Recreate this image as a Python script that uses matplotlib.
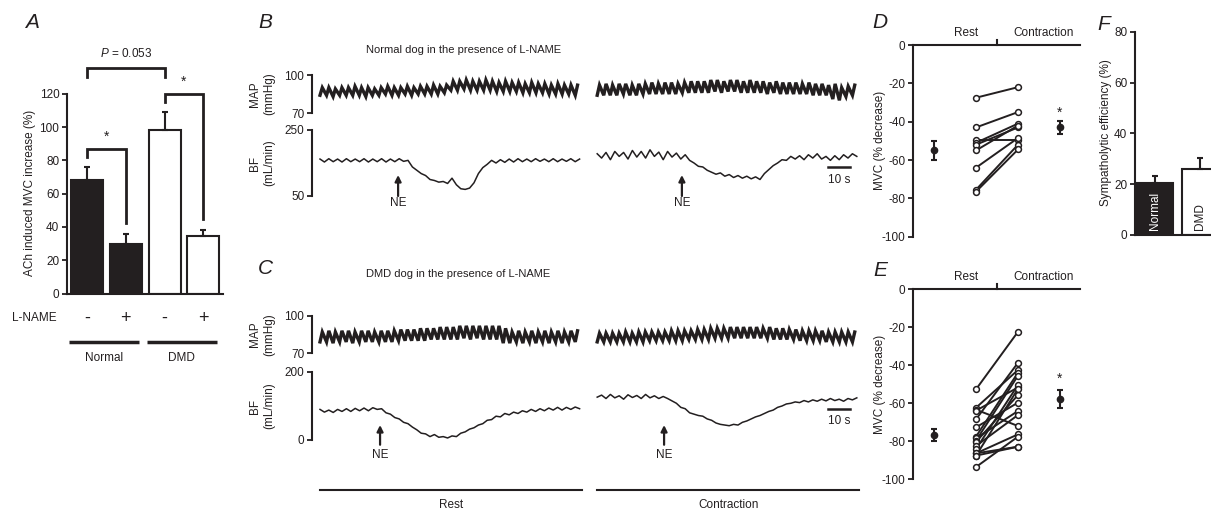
import numpy as np
import matplotlib
matplotlib.use("Agg")
import matplotlib.pyplot as plt
from matplotlib.transforms import blended_transform_factory as blend

plt.rcParams['font.family'] = ['Liberation Sans', 'DejaVu Sans']
plt.rcParams['mathtext.fontset'] = 'custom'
plt.rcParams['mathtext.rm'] = 'Liberation Sans'
plt.rcParams['mathtext.it'] = 'Liberation Sans:italic'
plt.rcParams['axes.unicode_minus'] = False

K = '#231f20'
FS = 8.5

# ---------------- data ----------------
# Panel A
a_groups = ['Normal', 'Normal', 'DMD', 'DMD']
a_lname = ['-', '+', '-', '+']
a_mean = [68, 29.5, 98, 34.5]
a_sem = [8, 6, 11, 3.5]
a_pval = 'P = 0.053'

# Panels B/C : MAP pulses (peak / trough per cycle), rest then contraction
b_rest_map_peak = [90, 90, 89, 90, 90, 91, 90, 90, 89, 90, 91, 90, 90, 91, 90, 91, 91, 92, 91, 92,
                   95, 95, 96, 95, 95, 96, 95, 94, 95, 94, 94, 93, 94, 93, 93, 92, 93, 92, 92, 92]
b_rest_map_trough = [84, 84, 83, 84, 84, 84, 84, 83, 84, 84, 85, 84, 84, 85, 84, 85, 85, 85, 85, 86,
                     88, 88, 89, 88, 88, 88, 88, 87, 87, 87, 87, 86, 86, 86, 86, 85, 85, 85, 85, 84]
b_con_map_peak = [92, 93, 92, 93, 93, 92, 93, 93, 94, 93, 94, 94, 93, 94, 95, 95, 95, 96, 96, 95,
                  96, 96, 95, 96, 95, 95, 94, 95, 94, 94, 94, 93, 94, 93, 93, 92, 93, 90, 91, 92]
b_con_map_trough = [84, 84, 84, 84, 85, 84, 84, 85, 85, 85, 85, 85, 85, 86, 86, 86, 86, 86, 87, 86,
                    87, 87, 86, 86, 86, 86, 85, 86, 85, 85, 85, 85, 85, 84, 84, 84, 81, 80, 83, 84]
c_rest_map_peak = [87, 88, 87, 88, 88, 87, 88, 88, 87, 88, 88, 88, 89, 89, 89, 90, 90, 90, 91, 91,
                   91, 92, 92, 92, 92, 92, 92, 92, 90, 87, 88, 87, 88, 87, 88, 87, 88, 87, 88, 88]
c_rest_map_trough = [79, 79, 78, 79, 79, 78, 79, 79, 79, 79, 79, 79, 80, 80, 80, 80, 80, 81, 81, 81,
                     81, 81, 82, 81, 82, 81, 81, 81, 78, 78, 79, 78, 79, 78, 79, 78, 79, 78, 79, 79]
c_con_map_peak = [86, 86, 86, 86, 87, 86, 87, 87, 87, 87, 87, 88, 88, 88, 88, 89, 89, 90, 90, 90,
                  91, 91, 91, 91, 91, 90, 91, 90, 90, 89, 89, 88, 88, 88, 88, 87, 87, 87, 87, 87]
c_con_map_trough = [79, 79, 79, 79, 79, 79, 79, 79, 80, 80, 80, 80, 80, 80, 81, 81, 81, 81, 82, 82,
                    82, 82, 82, 82, 82, 82, 82, 81, 81, 81, 81, 80, 80, 80, 80, 79, 79, 79, 79, 79]

# Blood flow sampled every 2 s (mL/min)
b_rest_bf = [162, 153, 163, 154, 162, 153, 163, 154, 162, 154, 163, 153, 162, 154, 163, 153, 162, 154, 163, 155, 158,
             138, 128, 118, 112, 100, 97, 92, 94, 88, 104, 84, 72, 70, 74, 90, 118, 136, 146, 158, 150,
             160, 152, 162, 153, 163, 154, 162, 154, 163, 155, 162, 154, 163, 154, 162, 155, 163, 154, 162]
b_con_bf = [178, 165, 182, 160, 185, 170, 182, 162, 188, 168, 185, 165, 190, 170, 183, 160, 185, 168, 180, 162, 175,
            158, 150, 140, 138, 128, 122, 116, 120, 110, 115, 106, 112, 104, 110, 102, 108, 100, 118, 130, 142,
            150, 160, 158, 170, 162, 172, 160, 175, 165, 178, 162, 170, 158, 172, 160, 175, 165, 178, 170]
c_rest_bf = [90, 82, 88, 81, 90, 84, 92, 84, 93, 86, 94, 86, 95, 90,
             92, 80, 76, 66, 62, 52, 48, 38, 30, 20, 18, 10, 16, 8, 10, 6, 12, 10, 20, 24,
             32, 36, 44, 48, 58, 60, 70, 68, 78, 74, 82, 78, 86, 82, 90, 84, 92, 86, 94, 88,
             96, 88, 96, 90, 97, 92]
c_con_bf = [126, 132, 122, 134, 124, 130, 120, 133, 125, 131, 122, 134, 124, 130, 122, 128,
            122, 115, 108, 96, 92, 80, 76, 72, 70, 62, 58, 50, 46, 44, 42, 46, 44, 52, 56, 62,
            68, 72, 78, 84, 88, 96, 100, 106, 108, 112, 110, 116, 112, 118, 114, 120, 115, 122,
            116, 120, 114, 122, 118, 124]
seg_start = [0, 126]          # s, rest / contraction segment starts
seg_dur = 119                 # s
bf_dt = 2                     # s
b_ne = [35.5, 164.5]          # NE injection times (s)
c_ne = [27.3, 156.4]
scale_bar = [231, 241]        # 10 s
b_title = 'Normal dog in the presence of L-NAME'
c_title = 'DMD dog in the presence of L-NAME'

# Panel D (Normal)
d_rest = [-27.5, -43, -49.5, -51, -52, -55, -64, -75.5, -76.5]
d_con = [-22, -35, -49.5, -41, -43, -42, -48.5, -52, -54.5]
d_mean = [-55, -43]
d_sem = [5, 3.5]
d_star = -33
# Panel E (DMD)
e_rest = [-52.8, -62.5, -63.5, -64, -68.6, -72.8, -77.7, -78.6, -79.8, -80.5, -82.6,
          -84.2, -86.5, -86.5, -87.7, -87.7, -93.7]
e_con = [-22.5, -42.6, -72.1, -51.8, -38.8, -59.8, -44, -64.2, -45.6, -55.8, -66.3,
         -50.5, -76.5, -83, -52.5, -83, -77.7]
e_mean = [-76.8, -57.9]
e_sem = [3.2, 4.8]
e_star = -45.3
de_labels = ['Rest', 'Contraction']

# Panel F
f_groups = ['Normal', 'DMD']
f_mean = [20.3, 26]
f_sem = [3, 4.5]

# ---------------- figure ----------------
W, H = 1211, 513
fig = plt.figure(figsize=(W / 100, H / 100), dpi=100)


def axpx(x0, y0, x1, y1):
    return fig.add_axes([x0 / W, 1 - y1 / H, (x1 - x0) / W, (y1 - y0) / H])


def ftext(x, y, s, **kw):
    kw.setdefault('fontsize', FS)
    kw.setdefault('color', K)
    fig.text(x / W, 1 - y / H, s, **kw)


def style_ticks(ax):
    ax.tick_params(axis='y', direction='out', length=3.5, width=1.3, labelsize=FS,
                   pad=2, colors=K)


for lab, (x, y) in zip('ABCDEF', [(32, 22), (265, 22), (265, 269), (880, 22), (880, 270), (1104, 24)]):
    ftext(x, y, lab, fontsize=15, style='italic', ha='center', va='center')

# ---------------- Panel A ----------------
axA = axpx(67, 93.8, 223, 293.5)
xa = np.arange(len(a_mean))
cols = [K if g == 'Normal' else 'white' for g in a_groups]
axA.bar(xa, a_mean, width=0.82, color=cols, edgecolor=K, linewidth=1.5, zorder=2)
axA.errorbar(xa, a_mean, yerr=[np.zeros(len(a_mean)), a_sem], fmt='none', ecolor=K,
             elinewidth=1.5, capsize=2.5, capthick=1.5, zorder=3)
axA.set_xlim(-0.515, 3.505)
axA.set_ylim(0, 120)
axA.set_yticks(np.arange(0, 121, 20))
axA.set_xticks([])
for s in ['top', 'right']:
    axA.spines[s].set_visible(False)
for s in ['left', 'bottom']:
    axA.spines[s].set_linewidth(1.5)
    axA.spines[s].set_color(K)
style_ticks(axA)
ftext(30, 193, 'ACh induced MVC increase (%)', rotation=90, ha='center', va='center')
bk = dict(color=K, lw=2, clip_on=False, solid_joinstyle='miter')
axA.plot([0, 0, 2, 2], [130.2, 135.6, 135.6, 130.2], **bk)
axA.plot([0, 0, 1, 1], [82, 86.9, 86.9, 42.4], **bk)
axA.plot([2, 2, 3, 3], [115, 120, 120, 44.8], **bk)
axA.text(1, 144.5, r'$P$ = 0.053', ha='center', va='center', fontsize=FS, color=K)
axA.text(0.5, 91.7, '*', ha='center', va='baseline', fontsize=10, color=K)
axA.text(2.5, 124.7, '*', ha='center', va='baseline', fontsize=10, color=K)
trA = blend(axA.transData, axA.transAxes)
ftext(12, 318, 'L-NAME', ha='left', va='center')
for i, s in enumerate(a_lname):
    axA.text(i, -0.123, s, transform=trA, ha='center', va='center', fontsize=13, color=K)
for g in ['Normal', 'DMD']:
    idx = [i for i, gg in enumerate(a_groups) if gg == g]
    axA.plot([idx[0] - 0.46, idx[-1] + 0.34], [-0.243, -0.243], transform=trA, color=K,
             lw=2.5, clip_on=False, solid_capstyle='butt')
    axA.text((idx[0] + idx[-1]) / 2 - 0.06, -0.323, g, transform=trA, ha='center', va='center',
             fontsize=FS, color=K)

# ---------------- Panels B / C ----------------
XL = ((312 - 320) / 2.2, (860 - 320) / 2.2)


def zigzag(t0, peaks, troughs, dur):
    n = len(peaks)
    T = dur / n
    t, v = [], []
    for k in range(n):
        t += [t0 + k * T, t0 + (k + 0.35) * T]
        v += [troughs[k], peaks[k]]
    return np.array(t), np.array(v)


def trace_axis(box, ylim):
    ax = axpx(*box)
    ax.set_xlim(*XL)
    ax.set_ylim(*ylim)
    for s in ['top', 'right', 'bottom']:
        ax.spines[s].set_visible(False)
    ax.spines['left'].set_bounds(*ylim)
    ax.spines['left'].set_linewidth(1.5)
    ax.spines['left'].set_color(K)
    ax.set_yticks(list(ylim))
    ax.set_xticks([])
    style_ticks(ax)
    ax.patch.set_alpha(0)
    return ax


def trace_panel(ymap, ybf, bf_lim, maps, bfs, ne, title, ty, ne_tip, ne_tail, ne_txt, sb_y, sb_txt):
    axm = trace_axis((312, ymap[0], 860, ymap[1]), (70, 100))
    axb = trace_axis((312, ybf[0], 860, ybf[1]), bf_lim)
    for t0, (pk, tr) in zip(seg_start, maps):
        t, v = zigzag(t0, pk, tr, seg_dur)
        axm.plot(t, v, color=K, lw=2.4, clip_on=False, solid_joinstyle='miter')
    for t0, vals in zip(seg_start, bfs):
        t = t0 + bf_dt * np.arange(len(vals))
        axb.plot(t, vals, color=K, lw=1.1, clip_on=False)
    tr = blend(axb.transData, axb.transAxes)
    for tn in ne:
        axb.annotate('', xy=(tn, ne_tip), xytext=(tn, ne_tail), xycoords=tr, textcoords=tr,
                     arrowprops=dict(arrowstyle='-|>', color=K, lw=1.6, mutation_scale=9,
                                     shrinkA=0, shrinkB=0))
        axb.text(tn, ne_txt, 'NE', transform=tr, ha='center', va='center', fontsize=FS, color=K)
    axb.plot(scale_bar, [sb_y, sb_y], transform=tr, color=K, lw=1.8, clip_on=False)
    axb.text(np.mean(scale_bar), sb_txt, '10 s', transform=tr, ha='center', va='center',
             fontsize=FS, color=K)
    ftext(366, ty, title, ha='left', va='center', fontsize=8)
    ftext(262, (ymap[0] + ymap[1]) / 2, 'MAP\n(mmHg)', rotation=90, ha='center', va='center',
          linespacing=1.25)
    ftext(262, (ybf[0] + ybf[1]) / 2, 'BF\n(mL/min)', rotation=90, ha='center', va='center',
          linespacing=1.25)
    return axm, axb


trace_panel((75, 113), (130, 196), (50, 250),
            [(b_rest_map_peak, b_rest_map_trough), (b_con_map_peak, b_con_map_trough)],
            [b_rest_bf, b_con_bf], b_ne, b_title, 50, 0.318, 0.0, -0.11, 0.44, 0.24)
_, axCb = trace_panel((316, 353), (372, 440), (0, 200),
                      [(c_rest_map_peak, c_rest_map_trough), (c_con_map_peak, c_con_map_trough)],
                      [c_rest_bf, c_con_bf], c_ne, c_title, 274, 0.22, -0.07, -0.22, 0.456, 0.28)
trC = blend(axCb.transData, axCb.transAxes)
for t0, lab in zip(seg_start, de_labels):
    axCb.plot([t0, t0 + seg_dur], [-0.735, -0.735], transform=trC, color=K, lw=1.5, clip_on=False)
    axCb.text(t0 + seg_dur / 2, -0.956, lab, transform=trC, ha='center', va='center',
              fontsize=FS, color=K)


# ---------------- Panels D / E ----------------
def mvc_panel(y0, y1, rest, con, mean, sem, star):
    ax = axpx(913, y0, 1080, y1)
    ax.set_xlim(-0.5, 3.476)
    ax.set_ylim(-100, 0)
    for s in ['right', 'bottom']:
        ax.spines[s].set_visible(False)
    for s in ['left', 'top']:
        ax.spines[s].set_linewidth(1.5)
        ax.spines[s].set_color(K)
    ax.set_yticks(np.arange(-100, 1, 20))
    ax.set_xticks([])
    style_ticks(ax)
    ax.plot([1.5, 1.5], [0, 2.8], color=K, lw=1.5, clip_on=False)
    ax.text(0.76, 6.5, de_labels[0], ha='center', va='center', fontsize=FS, color=K)
    ax.text(2.6, 6.5, de_labels[1], ha='center', va='center', fontsize=FS, color=K)
    for r, c in zip(rest, con):
        ax.plot([1, 2], [r, c], color=K, lw=1.4, zorder=2)
    ax.plot(np.ones(len(rest)), rest, 'o', ms=4.2, mfc='white', mec=K, mew=1.1, zorder=3)
    ax.plot(2 * np.ones(len(con)), con, 'o', ms=4.2, mfc='white', mec=K, mew=1.1, zorder=3)
    ax.errorbar([0, 3], mean, yerr=sem, fmt='o', ms=4.5, color=K, ecolor=K, elinewidth=1.5,
                capsize=2.5, capthick=1.5, zorder=4)
    ax.text(3, star - 4.2, '*', ha='center', va='baseline', fontsize=10, color=K)
    ftext(880, (y0 + y1) / 2, 'MVC (% decrease)', rotation=90, ha='center', va='center')
    return ax


mvc_panel(45, 236.7, d_rest, d_con, d_mean, d_sem, d_star)
mvc_panel(289, 479, e_rest, e_con, e_mean, e_sem, e_star)

# ---------------- Panel F ----------------
axF = axpx(1135, 32, 1225, 235)
xf = np.arange(len(f_mean))
axF.bar(xf, f_mean, width=0.78, color=[K, 'white'], edgecolor=K, linewidth=1.5, zorder=2)
axF.errorbar(xf, f_mean, yerr=[np.zeros(2), f_sem], fmt='none', ecolor=K, elinewidth=1.5,
             capsize=2.5, capthick=1.5, zorder=3)
axF.set_xlim(-0.444, 1.556)
axF.set_ylim(0, 80)
axF.set_yticks(np.arange(0, 81, 20))
axF.set_xticks([])
for s in ['top', 'right']:
    axF.spines[s].set_visible(False)
for s in ['left', 'bottom']:
    axF.spines[s].set_linewidth(1.5)
    axF.spines[s].set_color(K)
style_ticks(axF)
for i, g in enumerate(f_groups):
    axF.text(i, 2, g, rotation=90, ha='center', va='bottom', fontsize=FS,
             color='white' if i == 0 else K, zorder=4)
ftext(1106, 133, 'Sympatholytic efficiency (%)', rotation=90, ha='center', va='center')

fig.savefig('out.png', dpi=100)
